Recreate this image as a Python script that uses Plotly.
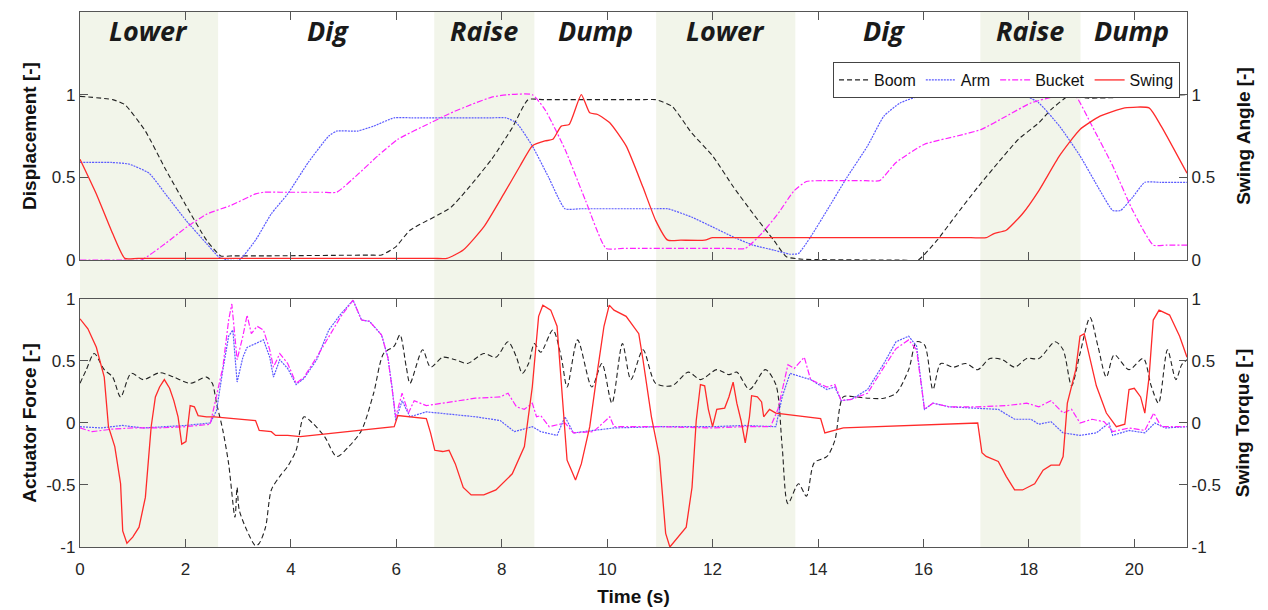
import plotly.graph_objects as go

# ---------------- Top panel: displacement (left) / swing angle (right) ----------------
disp_boom_t = [0, 0.62, 0.85, 1.24, 1.62, 2.01, 2.40, 2.67, 2.9, 3.5, 5.5, 5.72, 5.99, 6.26, 7.04, 7.81, 8.2,
               8.5, 8.8, 10.7, 10.92, 11.23, 11.6, 12.0, 12.4, 12.77, 13.16, 13.4, 13.7, 15.6, 15.9, 16.26,
               16.64, 17.03, 17.42, 17.8, 18.19, 18.42, 18.73, 18.8, 19.1, 21]
disp_boom = [0.99, 0.97, 0.94, 0.78, 0.55, 0.33, 0.12, 0.025, 0.025, 0.025, 0.03, 0.03, 0.08, 0.18, 0.32, 0.61,
             0.80, 0.97, 0.97, 0.97, 0.97, 0.93, 0.77, 0.63, 0.44, 0.28, 0.12, 0.02, 0.005, 0.0, 0.0, 0.12,
             0.28, 0.44, 0.59, 0.73, 0.83, 0.91, 0.99, 1.0, 0.98, 1.0]

disp_arm_t = [0, 0.6, 0.93, 1.31, 1.62, 2.01, 2.40, 2.63, 2.8, 3.02, 3.33, 3.63, 3.94, 4.33, 4.72, 4.87, 5.26,
              5.57, 5.96, 6.3, 7.8, 8.08, 8.28, 8.58, 8.89, 9.2, 9.5, 10.9, 11.15, 11.6, 12.0, 12.39, 12.77,
              13.16, 13.47, 13.63, 13.86, 14.17, 14.55, 14.94, 15.25, 15.56, 16.02, 16.4, 17.5, 17.73, 17.96,
              18.19, 18.58, 18.97, 19.35, 19.59, 19.74, 19.97, 20.2, 20.5, 21]
disp_arm = [0.59, 0.59, 0.58, 0.525, 0.40, 0.24, 0.10, 0.02, 0.0, 0.0, 0.12, 0.28, 0.40, 0.59, 0.75, 0.78,
            0.78, 0.81, 0.86, 0.86, 0.86, 0.86, 0.83, 0.69, 0.50, 0.31, 0.31, 0.31, 0.31, 0.26, 0.20, 0.14,
            0.09, 0.06, 0.035, 0.04, 0.14, 0.30, 0.50, 0.69, 0.87, 0.95, 1.0, 1.0, 1.0, 1.0, 0.99,
            0.95, 0.81, 0.63, 0.42, 0.30, 0.30, 0.38, 0.47, 0.47, 0.47]

disp_bucket_t = [0, 0.8, 1.16, 1.62, 2.01, 2.40, 2.86, 3.33, 3.48, 3.8, 4.6, 4.87, 5.26, 5.65, 6.03, 6.65, 7.04,
                 7.42, 7.81, 8.12, 8.58, 8.82, 9.2, 9.59, 9.98, 10.3, 12.3, 12.62, 12.93, 13.24, 13.55, 13.78,
                 14.1, 14.9, 15.17, 15.48, 16.02, 16.64, 17.1, 17.57, 18.04, 18.5, 18.73, 18.89, 19.2, 19.59,
                 19.97, 20.36, 20.6, 21]
disp_bucket = [0, 0, 0, 0.10, 0.196, 0.277, 0.33, 0.40, 0.41, 0.41, 0.41, 0.41, 0.515, 0.63, 0.73, 0.83, 0.89,
               0.94, 0.985, 1.0, 1.0, 0.91, 0.67, 0.36, 0.07, 0.07, 0.07, 0.07, 0.16, 0.28, 0.42, 0.475,
               0.48, 0.48, 0.48, 0.59, 0.70, 0.75, 0.79, 0.87, 0.95, 0.99, 1.0, 0.99, 0.81, 0.57,
               0.30, 0.09, 0.09, 0.09]

angle_swing_t = [0, 0.31, 0.62, 0.85, 1.1, 6.7, 6.96, 7.27, 7.66, 8.04, 8.35, 8.58, 8.82, 8.97, 9.13, 9.28, 9.51,
                 9.67, 9.82, 10.05, 10.36, 10.68, 10.92, 11.15, 11.4, 11.85, 12.0, 12.3, 16.9, 17.19, 17.34,
                 17.57, 17.88, 18.19, 18.58, 18.97, 19.35, 19.82, 20.28, 20.51, 21]
angle_swing = [0.61, 0.40, 0.16, 0.01, 0.01, 0.01, 0.01, 0.06, 0.20, 0.40, 0.57, 0.69, 0.72, 0.73, 0.81, 0.82,
               1.0, 0.89, 0.88, 0.83, 0.69, 0.44, 0.24, 0.12, 0.12, 0.12, 0.135, 0.135, 0.135, 0.135, 0.16,
               0.18, 0.28, 0.42, 0.63, 0.79, 0.87, 0.92, 0.92, 0.81, 0.525]

# ---------------- Bottom panel: actuator force (left) / swing torque (right) ----------------
force_boom_t = [0, 0.12, 0.27, 0.46, 0.62, 0.77, 0.97, 1.2, 1.51, 1.78, 2.09, 2.40, 2.51, 2.59, 2.71, 2.82,
                2.94, 2.98, 3.02, 3.17, 3.33, 3.40, 3.52, 3.63, 3.79, 3.94, 4.10, 4.25, 4.41, 4.64, 4.87,
                5.1, 5.34, 5.57, 5.76, 5.96, 6.07, 6.19, 6.26, 6.5, 6.65, 6.88, 7.12, 7.35, 7.66, 7.89,
                8.12, 8.28, 8.39, 8.51, 8.62, 8.74, 8.97, 9.13, 9.24, 9.44, 9.71, 9.9, 10.09, 10.29,
                10.45, 10.68, 10.92, 11.23, 11.54, 11.77, 12.08, 12.31, 12.46, 12.7, 13.0, 13.2, 13.32,
                13.43, 13.63, 13.78, 13.93, 14.17, 14.32, 14.48, 14.71, 14.94, 15.25, 15.48, 15.72,
                15.87, 16.02, 16.18, 16.33, 16.57, 16.8, 17.03, 17.26, 17.5, 17.73, 17.96, 18.19, 18.5,
                18.65, 18.81, 18.97, 19.16, 19.31, 19.47, 19.62, 19.9, 20.17, 20.32, 20.46, 20.63,
                20.79, 20.9, 21]
force_boom = [0.32, 0.43, 0.56, 0.43, 0.37, 0.21, 0.40, 0.35, 0.405, 0.37, 0.32, 0.37, 0.32, 0.16, -0.06,
              -0.33, -0.76, -0.52, -0.70, -0.87, -0.99, -0.97, -0.84, -0.54, -0.43, -0.35, -0.22, 0.05,
              0.0, -0.11, -0.27, -0.19, -0.06, 0.24, 0.56, 0.62, 0.71, 0.45, 0.32, 0.59, 0.45, 0.53,
              0.51, 0.48, 0.56, 0.53, 0.655, 0.53, 0.40, 0.48, 0.64, 0.57, 0.75, 0.53, 0.29, 0.67,
              0.29, 0.48, 0.16, 0.64, 0.35, 0.59, 0.32, 0.30, 0.41, 0.35, 0.43, 0.39, 0.41, 0.27,
              0.43, 0.31, -0.19, -0.65, -0.49, -0.59, -0.32, -0.27, -0.14, 0.21, 0.21, 0.20, 0.20,
              0.24, 0.43, 0.655, 0.63, 0.27, 0.48, 0.45, 0.48, 0.43, 0.52, 0.51, 0.45, 0.52, 0.52,
              0.655, 0.59, 0.30, 0.56, 0.85, 0.62, 0.37, 0.55, 0.43, 0.52, 0.30, 0.16, 0.59, 0.35,
              0.47, 0.51]

force_arm_t = [0, 0.4, 0.8, 1.2, 1.6, 2.0, 2.47, 2.59, 2.71, 2.82, 2.90, 2.98, 3.09, 3.17, 3.33, 3.48, 3.6,
               3.67, 3.79, 3.94, 4.1, 4.25, 4.49, 4.72, 4.95, 5.18, 5.34, 5.49, 5.72, 5.84, 5.92, 5.99,
               6.11, 6.26, 6.57, 7.04, 7.5, 7.97, 8.24, 8.58, 8.74, 9.05, 9.2, 9.36, 9.74, 10.13, 11.0,
               12.0, 12.6, 13.2, 13.32, 13.47, 13.7, 13.86, 14.01, 14.17, 14.32, 14.44, 14.63, 14.94,
               15.25, 15.48, 15.72, 15.87, 16.02, 16.18, 16.49, 17.03, 17.42, 17.73, 18.04, 18.19,
               18.42, 18.65, 18.97, 19.28, 19.52, 19.59, 19.9, 20.2, 20.39, 20.59, 21]
force_arm = [-0.03, -0.04, -0.02, -0.04, -0.03, -0.02, 0.0, 0.10, 0.43, 0.70, 0.75, 0.33, 0.53, 0.61, 0.64,
             0.67, 0.53, 0.37, 0.51, 0.44, 0.31, 0.36, 0.51, 0.75, 0.88, 0.99, 0.83, 0.82, 0.71, 0.53,
             0.29, 0.02, 0.18, 0.05, 0.09, 0.07, 0.05, 0.02, -0.07, -0.03, -0.07, -0.10, 0.05, -0.08,
             -0.06, -0.04, -0.03, -0.03, -0.02, -0.03, 0.21, 0.40, 0.37, 0.35, 0.31, 0.27, 0.29, 0.18,
             0.19, 0.27, 0.48, 0.655, 0.70, 0.62, 0.11, 0.16, 0.13, 0.12, 0.11, 0.03, 0.03, -0.01,
             0.01, -0.08, -0.10, -0.08, 0.0, -0.10, -0.06, -0.08, 0.0, -0.04, -0.03]

force_bucket_t = [0, 0.23, 0.6, 1.0, 1.5, 2.0, 2.47, 2.71, 2.82, 2.88, 2.98, 3.09, 3.17, 3.25, 3.36, 3.48,
                  3.6, 3.67, 3.79, 3.94, 4.1, 4.25, 4.49, 4.72, 4.95, 5.18, 5.34, 5.49, 5.72, 5.84, 5.92,
                  5.99, 6.11, 6.23, 6.34, 6.57, 7.04, 7.5, 7.97, 8.12, 8.28, 8.43, 8.58, 8.66, 8.74, 8.9,
                  9.2, 9.36, 9.74, 10.05, 10.13, 11.0, 12.0, 12.6, 13.1, 13.24, 13.43, 13.55, 13.74, 13.86,
                  14.01, 14.17, 14.32, 14.44, 14.63, 14.94, 15.25, 15.48, 15.72, 15.87, 16.02, 16.18,
                  16.49, 17.03, 17.57, 17.96, 18.19, 18.42, 18.65, 18.81, 18.97, 19.2, 19.43, 19.59,
                  19.9, 20.2, 20.37, 20.51, 21]
force_bucket = [-0.04, -0.07, -0.05, -0.04, -0.04, -0.03, -0.01, 0.45, 0.83, 0.96, 0.51, 0.70, 0.87, 0.72,
                0.78, 0.75, 0.59, 0.45, 0.56, 0.48, 0.32, 0.37, 0.53, 0.70, 0.86, 0.99, 0.83, 0.82, 0.71,
                0.53, 0.29, 0.05, 0.24, 0.08, 0.18, 0.14, 0.17, 0.20, 0.21, 0.24, 0.13, 0.11, 0.16, 0.05,
                0.06, -0.03, 0.0, -0.08, -0.07, 0.05, -0.03, -0.03, -0.04, -0.03, -0.03, 0.11, 0.47, 0.44,
                0.53, 0.35, 0.32, 0.29, 0.31, 0.18, 0.19, 0.24, 0.45, 0.60, 0.67, 0.59, 0.11, 0.16, 0.13,
                0.13, 0.14, 0.16, 0.13, 0.18, 0.08, 0.11, 0.0, 0.03, 0.01, -0.07, -0.04, -0.06, 0.08,
                -0.03, -0.03]

torque_swing_t = [0, 0.15, 0.31, 0.46, 0.54, 0.66, 0.77, 0.81, 0.89, 1.0, 1.12, 1.24, 1.35, 1.43, 1.51, 1.6,
                  1.70, 1.78, 1.86, 1.93, 2.01, 2.09, 2.17, 2.24, 2.40, 2.55, 3.33, 3.4, 3.63, 3.71, 3.94,
                  4.18, 5.96, 6.03, 6.57, 6.65, 6.73, 6.88, 7.0, 7.12, 7.27, 7.42, 7.66, 7.89, 8.2, 8.43,
                  8.58, 8.70, 8.78, 8.93, 9.05, 9.13, 9.24, 9.32, 9.40, 9.51, 9.67, 9.82, 9.94, 10.04,
                  10.13, 10.36, 10.6, 10.68, 10.84, 10.99, 11.11, 11.19, 11.3, 11.5, 11.61, 11.69, 11.77,
                  11.85, 11.92, 12.0, 12.08, 12.23, 12.31, 12.39, 12.46, 12.54, 12.62, 12.7, 12.74, 12.85,
                  12.93, 12.97, 13.08, 13.2, 14.05, 14.13, 14.48, 17.03, 17.11, 17.19, 17.42, 17.57, 17.73,
                  17.88, 18.11, 18.27, 18.42, 18.58, 18.65, 18.73, 18.89, 18.97, 19.05, 19.12, 19.28,
                  19.47, 19.66, 19.82, 19.9, 20.0, 20.12, 20.2, 20.28, 20.36, 20.47, 20.67, 20.86, 21]
torque_swing = [0.84, 0.76, 0.61, 0.37, -0.03, -0.19, -0.49, -0.87, -0.97, -0.92, -0.84, -0.60, -0.03, 0.21,
                0.29, 0.35, 0.28, 0.18, 0.05, -0.17, -0.15, 0.14, 0.13, 0.06, 0.05, 0.05, 0.02, -0.06,
                -0.07, -0.10, -0.10, -0.11, -0.03, 0.06, 0.035, -0.08, -0.22, -0.23, -0.22, -0.33, -0.52,
                -0.58, -0.58, -0.54, -0.41, -0.19, 0.29, 0.86, 0.95, 0.91, 0.78, 0.32, -0.30, -0.38,
                -0.46, -0.33, -0.03, 0.43, 0.78, 0.95, 0.91, 0.86, 0.72, 0.51, 0.05, -0.27, -0.89, -1.0,
                -0.94, -0.84, -0.52, 0.02, 0.31, 0.30, 0.11, -0.03, 0.11, 0.12, 0.21, 0.33, 0.16, 0.02,
                -0.16, 0.05, 0.22, 0.21, 0.17, 0.05, 0.11, 0.08, 0.035, -0.08, -0.04, 0.0, -0.24, -0.27,
                -0.31, -0.43, -0.54, -0.54, -0.49, -0.38, -0.34, -0.34, -0.27, 0.16, 0.43, 0.70, 0.72,
                0.59, 0.30, 0.08, -0.03, -0.01, 0.27, 0.28, 0.21, 0.08, 0.37, 0.83, 0.91, 0.87, 0.70, 0.53]

# ---------------- Phases ----------------
phase_names = ["Lower", "Dig", "Raise", "Dump", "Lower", "Dig", "Raise", "Dump"]
phase_centers = [1.29, 4.7, 7.67, 9.77, 12.24, 15.25, 18.03, 19.95]
shaded_start = [0.0, 6.72, 10.93, 17.08]
shaded_end = [2.62, 8.62, 13.57, 18.98]

x_ticks = [0, 2, 4, 6, 8, 10, 12, 14, 16, 18, 20]
top_ticks = [0, 0.5, 1]
top_tick_text = ["0", "0.5", "1"]
bot_ticks = [-1, -0.5, 0, 0.5, 1]
bot_tick_text = ["-1", "-0.5", "0", "0.5", "1"]

BOOM = dict(color="#222222", width=1.1, dash="5px,3px")
ARM = dict(color="#5a5aff", width=1.2, dash="2px,1px")
BUCKET = dict(color="#ff22ff", width=1.2, dash="6px,2px,2px,2px")
SWING = dict(color="#ff2a2a", width=1.3)

TOP_SHAPE = dict(shape="spline", smoothing=0.5)

fig = go.Figure()
fig.add_trace(go.Scatter(x=disp_boom_t, y=disp_boom, name="Boom", line=dict(**BOOM, **TOP_SHAPE),
                         mode="lines", xaxis="x2", yaxis="y"))
fig.add_trace(go.Scatter(x=disp_arm_t, y=disp_arm, name="Arm", line=dict(**ARM, **TOP_SHAPE),
                         mode="lines", xaxis="x2", yaxis="y"))
fig.add_trace(go.Scatter(x=disp_bucket_t, y=disp_bucket, name="Bucket", line=dict(**BUCKET, **TOP_SHAPE),
                         mode="lines", xaxis="x2", yaxis="y"))
fig.add_trace(go.Scatter(x=angle_swing_t, y=angle_swing, name="Swing", line=dict(**SWING, **TOP_SHAPE),
                         mode="lines", xaxis="x2", yaxis="y2"))

fig.add_trace(go.Scatter(x=force_boom_t, y=force_boom, name="Boom",
                         line=dict(**BOOM, shape="spline", smoothing=0.8), mode="lines",
                         xaxis="x", yaxis="y3", showlegend=False))
fig.add_trace(go.Scatter(x=force_arm_t, y=force_arm, name="Arm", line=ARM, mode="lines",
                         xaxis="x", yaxis="y3", showlegend=False))
fig.add_trace(go.Scatter(x=force_bucket_t, y=force_bucket, name="Bucket", line=BUCKET, mode="lines",
                         xaxis="x", yaxis="y3", showlegend=False))
fig.add_trace(go.Scatter(x=torque_swing_t, y=torque_swing, name="Swing", line=SWING, mode="lines",
                         xaxis="x", yaxis="y4", showlegend=False))

shapes = []
for s, e in zip(shaded_start, shaded_end):
    shapes.append(dict(type="rect", xref="x", yref="paper", x0=s, x1=e, y0=0, y1=1,
                       fillcolor="#f2f5ea", line=dict(width=0), layer="below"))

annotations = []
for name, c in zip(phase_names, phase_centers):
    annotations.append(dict(x=c, y=0.966, xref="x", yref="paper", yanchor="middle",
                            text="<b><i>%s</i></b>" % name, showarrow=False,
                            font=dict(family="Open Sans", size=27, color="#1a1a1a")))

TICKFONT = dict(family="Liberation Sans", size=17, color="#262626")
TITLEFONT = dict(family="Liberation Sans", size=19, color="#111111")
AX = dict(showline=True, linecolor="#555555", linewidth=1.3, ticks="inside", ticklen=8,
          tickcolor="#555555", showgrid=False, zeroline=False, tickfont=TICKFONT, automargin=False)

top_dom = [0.5364, 1.0]
bot_dom = [0.0, 0.4636]

fig.update_layout(
    width=1268, height=610,
    margin=dict(l=80, r=81, t=12, b=63, autoexpand=False),
    paper_bgcolor="white", plot_bgcolor="rgba(0,0,0,0)",
    shapes=shapes, annotations=annotations,
    xaxis=dict(domain=[0, 1], anchor="y3", range=[0, 21], tickvals=x_ticks, mirror="ticks",
               ticklabelstandoff=6,
               title=dict(text="<b>Time (s)</b>", font=TITLEFONT, standoff=12), **AX),
    xaxis2=dict(domain=[0, 1], anchor="y", range=[0, 21], tickvals=x_ticks, showticklabels=False,
                mirror="ticks", matches="x", **AX),
    yaxis=dict(domain=top_dom, anchor="x2", range=[0, 1.5], tickvals=top_ticks, ticktext=top_tick_text,
               mirror="ticks",
               title=dict(text="<b>Displacement [-]</b>", font=TITLEFONT, standoff=10), **AX),
    yaxis2=dict(domain=top_dom, anchor="x2", overlaying="y", side="right", range=[0, 1.5],
                tickvals=top_ticks, ticktext=top_tick_text,
                title=dict(text="<b>Swing Angle [-]</b>", font=TITLEFONT, standoff=22), **AX),
    yaxis3=dict(domain=bot_dom, anchor="x", range=[-1, 1], tickvals=bot_ticks, ticktext=bot_tick_text,
                title=dict(text="<b>Actuator Force [-]</b>", font=TITLEFONT, standoff=4), **AX),
    yaxis4=dict(domain=bot_dom, anchor="x", overlaying="y3", side="right", range=[-1, 1],
                tickvals=bot_ticks, ticktext=bot_tick_text,
                title=dict(text="<b>Swing Torque [-]</b>", font=TITLEFONT, standoff=15), **AX),
    legend=dict(orientation="h", x=0.9937, xanchor="right", y=0.9065, yanchor="top",
                bgcolor="white", bordercolor="#444444", borderwidth=1,
                font=dict(family="Liberation Sans", size=16, color="#111111"),
                itemwidth=30, tracegroupgap=0),
    showlegend=True,
)

fig.write_html("out.html", post_script="document.body.style.margin='0px';",
               config={"displayModeBar": False})
